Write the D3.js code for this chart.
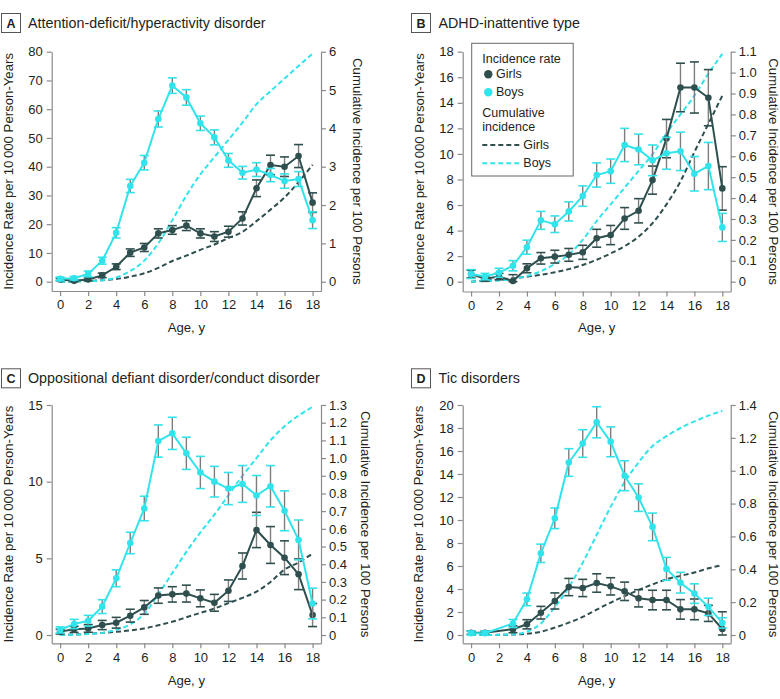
<!DOCTYPE html>
<html><head><meta charset="utf-8">
<script src="https://cdn.jsdelivr.net/npm/d3@7"></script>
<style>
body{margin:0;background:#fff}
text{font-family:"Liberation Sans",Arial,sans-serif;fill:#231f20}
</style>
</head><body>
<script>
// ---------- DATA ----------
const ages = d3.range(0, 19);
const xTicks = [0, 2, 4, 6, 8, 10, 12, 14, 16, 18];

// Panel A: ADHD
const boysRateA  = [1.0, 1.2, 2.7, 7.3, 17.0, 33.3, 41.4, 56.6, 68.2, 64.1, 55.1, 50.2, 42.2, 37.9, 39.0, 37.1, 35.0, 35.7, 21.4];
const boysErrA   = [0.6, 0.6, 1.0, 1.2, 1.8, 2.3, 2.5, 2.8, 2.7, 2.7, 2.5, 2.6, 2.4, 2.2, 2.4, 2.3, 2.5, 2.6, 2.9];
const girlsRateA = [0.8, 0.3, 0.8, 2.2, 5.2, 10.1, 11.9, 16.8, 18.0, 19.5, 16.8, 15.7, 17.4, 22.0, 32.5, 40.6, 40.0, 43.7, 27.5];
const girlsErrA  = [0.4, 0.3, 0.5, 0.8, 1.0, 1.3, 1.4, 1.6, 1.5, 1.7, 1.6, 1.7, 1.9, 2.3, 2.9, 3.4, 3.4, 4.0, 3.4];
const boysCumA   = [0, 0.005, 0.015, 0.04, 0.11, 0.28, 0.55, 1.0, 1.6, 2.25, 2.8, 3.25, 3.7, 4.15, 4.63, 4.97, 5.3, 5.63, 5.95];
const girlsCumA  = [0, 0.01, 0.02, 0.04, 0.07, 0.13, 0.22, 0.36, 0.54, 0.68, 0.83, 0.97, 1.14, 1.3, 1.58, 1.88, 2.2, 2.6, 3.05];
const leftTicksA  = [0, 10, 20, 30, 40, 50, 60, 70, 80];
const rightTicksA = [0, 1, 2, 3, 4, 5, 6];

// Panel B: ADHD-inattentive type
const boysRateB  = [0.6, 0.4, 0.7, 1.25, 2.7, 4.8, 4.5, 5.5, 6.7, 8.35, 8.65, 10.7, 10.35, 9.5, 10.05, 10.2, 8.45, 9.05, 4.25];
const boysErrB   = [0.35, 0.25, 0.35, 0.4, 0.55, 0.7, 0.65, 0.75, 0.8, 0.95, 0.95, 1.3, 1.2, 1.2, 1.25, 1.5, 1.35, 1.85, 1.1];
const girlsRateB = [0.6, 0.23, 0.4, 0.05, 1.05, 1.83, 1.96, 2.1, 2.3, 3.4, 3.65, 4.95, 5.55, 7.95, 11.2, 15.2, 15.2, 14.4, 7.3];
const girlsErrB  = [0.3, 0.2, 0.25, 0.5, 0.35, 0.45, 0.5, 0.5, 0.55, 0.7, 0.75, 0.85, 0.95, 1.1, 1.5, 1.9, 2.0, 2.2, 1.7];
const boysCumB   = [0, 0.003, 0.006, 0.013, 0.027, 0.05, 0.085, 0.13, 0.2, 0.29, 0.37, 0.45, 0.53, 0.61, 0.71, 0.8, 0.89, 0.995, 1.09];
const girlsCumB  = [0, 0.005, 0.01, 0.016, 0.024, 0.033, 0.045, 0.06, 0.08, 0.105, 0.135, 0.17, 0.215, 0.28, 0.37, 0.48, 0.62, 0.755, 0.89];
const leftTicksB  = [0, 2, 4, 6, 8, 10, 12, 14, 16, 18];
const rightTicksB = [0, 0.1, 0.2, 0.3, 0.4, 0.5, 0.6, 0.7, 0.8, 0.9, 1.0, 1.1];

// Panel C: ODD/CD
const boysRateC  = [0.33, 0.72, 0.93, 1.85, 3.7, 6.0, 8.25, 12.65, 13.15, 11.85, 10.6, 10.0, 9.55, 9.85, 9.1, 9.7, 8.1, 6.2, 2.05];
const boysErrC   = [0.2, 0.3, 0.35, 0.45, 0.55, 0.7, 0.8, 1.05, 1.05, 1.05, 1.05, 1.0, 1.05, 1.2, 1.3, 1.35, 1.3, 1.3, 1.0];
const girlsRateC = [0.22, 0.37, 0.43, 0.65, 0.8, 1.26, 1.8, 2.57, 2.65, 2.7, 2.39, 2.1, 2.89, 4.5, 6.85, 5.87, 5.04, 3.96, 1.3];
const girlsErrC  = [0.15, 0.2, 0.25, 0.3, 0.35, 0.42, 0.45, 0.5, 0.5, 0.55, 0.55, 0.55, 0.7, 0.85, 1.15, 1.2, 1.1, 1.0, 0.75];
const boysCumC   = [0, 0.002, 0.005, 0.012, 0.03, 0.06, 0.12, 0.23, 0.35, 0.47, 0.58, 0.68, 0.79, 0.9, 1.0, 1.1, 1.18, 1.24, 1.29];
const girlsCumC  = [0, 0.003, 0.007, 0.012, 0.018, 0.026, 0.037, 0.055, 0.075, 0.1, 0.125, 0.15, 0.18, 0.21, 0.245, 0.3, 0.37, 0.41, 0.46];
const leftTicksC  = [0, 5, 10, 15];
const rightTicksC = [0, 0.1, 0.2, 0.3, 0.4, 0.5, 0.6, 0.7, 0.8, 0.9, 1.0, 1.1, 1.2, 1.3];

// Panel D: Tic disorders (no estimate at age 2)
const boysRateD  = [0.15, 0.15, null, 1.0, 3.1, 7.1, 10.15, 15.0, 16.65, 18.5, 16.8, 13.85, 11.95, 9.4, 5.75, 4.55, 3.6, 2.45, 1.05];
const boysErrD   = [0.2, 0.2, null, 0.35, 0.55, 0.8, 0.9, 1.2, 1.2, 1.35, 1.3, 1.3, 1.2, 1.2, 1.0, 0.9, 0.85, 0.75, 0.45];
const girlsRateD = [0.2, 0.2, null, 0.5, 0.93, 1.94, 2.96, 4.17, 4.09, 4.52, 4.23, 3.8, 3.19, 3.04, 3.04, 2.23, 2.23, 1.88, 0.52];
const girlsErrD  = [0.15, 0.15, null, 0.3, 0.4, 0.55, 0.7, 0.75, 0.75, 0.8, 0.75, 0.8, 0.75, 0.85, 0.85, 0.85, 0.9, 0.7, 1.5];
const boysCumD   = [0, 0, 0.001, 0.004, 0.02, 0.07, 0.17, 0.29, 0.44, 0.61, 0.78, 0.93, 1.05, 1.15, 1.21, 1.26, 1.3, 1.335, 1.365];
const girlsCumD  = [0, 0, 0.001, 0.003, 0.007, 0.02, 0.045, 0.075, 0.11, 0.155, 0.197, 0.237, 0.274, 0.308, 0.339, 0.36, 0.38, 0.406, 0.426];
const leftTicksD  = [0, 2, 4, 6, 8, 10, 12, 14, 16, 18, 20];
const rightTicksD = [0, 0.2, 0.4, 0.6, 0.8, 1.0, 1.2, 1.4];

const titles = ["Attention-deficit/hyperactivity disorder", "ADHD-inattentive type",
                "Oppositional defiant disorder/conduct disorder", "Tic disorders"];
const letters = ["A", "B", "C", "D"];
const yLabel = "Incidence Rate per 10\u2009000 Person-Years";
const y2Label = "Cumulative Incidence per 100 Persons";
const xLabel = "Age, y";
const legendTitle1 = "Incidence rate";
const legendTitle2 = ["Cumulative", "incidence"];
const seriesNames = ["Girls", "Boys"];

// ---------- STYLE / LAYOUT ----------
const C_GIRL = "#2f4f4f", C_BOY = "#31e4eb", C_ERR = "#7d7d7d", C_AXIS = "#8a8a8a", C_TEXT = "#231f20";

const svg = d3.select("body").append("svg").attr("width", 780).attr("height", 699);

const layouts = [
  {L: 51.7, R: 321, top: 51.7, zero: 281.7, bottom: 291, boxX: 1, boxY: 13, titleX: 28, titleY: 28.3, ylx: 12.5, y2lx: 353.4, xly: 331.7},
  {L: 462.7, R: 730.7, top: 51.7, zero: 281.7, bottom: 291.5, boxX: 411, boxY: 13, titleX: 438.5, titleY: 28.3, ylx: 423.5, y2lx: 768.8, xly: 331.7},
  {L: 51.7, R: 321, top: 405, zero: 635, bottom: 643.3, boxX: 1, boxY: 368.3, titleX: 28, titleY: 383.3, ylx: 12.5, y2lx: 360.7, xly: 685},
  {L: 462.7, R: 730.7, top: 405, zero: 635, bottom: 643.3, boxX: 411, boxY: 368.3, titleX: 438.5, titleY: 383.3, ylx: 422.8, y2lx: 769, xly: 685}
];

const panels = [
  {boys: boysRateA, boysErr: boysErrA, girls: girlsRateA, girlsErr: girlsErrA, boysCum: boysCumA, girlsCum: girlsCumA, lt: leftTicksA, rt: rightTicksA, rInt: true},
  {boys: boysRateB, boysErr: boysErrB, girls: girlsRateB, girlsErr: girlsErrB, boysCum: boysCumB, girlsCum: girlsCumB, lt: leftTicksB, rt: rightTicksB, legend: true},
  {boys: boysRateC, boysErr: boysErrC, girls: girlsRateC, girlsErr: girlsErrC, boysCum: boysCumC, girlsCum: girlsCumC, lt: leftTicksC, rt: rightTicksC},
  {boys: boysRateD, boysErr: boysErrD, girls: girlsRateD, girlsErr: girlsErrD, boysCum: boysCumD, girlsCum: girlsCumD, lt: leftTicksD, rt: rightTicksD}
];

function styleAxis(sel) {
  sel.attr("font-family", null).attr("font-size", null);
  sel.select(".domain").attr("stroke", C_AXIS).attr("stroke-width", 1.2);
  sel.selectAll(".tick line").attr("stroke", C_AXIS).attr("stroke-width", 1.2);
  sel.selectAll(".tick text").attr("fill", C_TEXT).style("font-size", "13px");
}

panels.forEach((p, k) => {
  const lay = layouts[k];
  const g = svg.append("g");
  const yMax = d3.max(p.lt), y2Max = d3.max(p.rt);
  const padFrac = (lay.bottom - lay.zero) / (lay.zero - lay.top);
  const x = d3.scaleLinear().domain([-0.6, 18.6]).range([lay.L, lay.R]);
  const y = d3.scaleLinear().domain([-yMax * padFrac, yMax]).range([lay.bottom, lay.top]);
  const y2 = d3.scaleLinear().domain([-y2Max * padFrac, y2Max]).range([lay.bottom, lay.top]);

  // title
  g.append("rect").attr("x", lay.boxX + 0.5).attr("y", lay.boxY + 0.5).attr("width", 19).attr("height", 19)
    .attr("fill", "#fff").attr("stroke", "#555").attr("stroke-width", 1);
  g.append("text").attr("x", lay.boxX + 10).attr("y", lay.boxY + 15).attr("text-anchor", "middle")
    .style("font-size", "12.5px").style("font-weight", "bold").text(letters[k]);
  g.append("text").attr("x", lay.titleX).attr("y", lay.titleY).style("font-size", "14.3px").text(titles[k]);

  // axes
  g.append("g").attr("transform", `translate(0,${lay.bottom})`)
    .call(d3.axisBottom(x).tickValues(xTicks).tickSize(5).tickPadding(4).tickSizeOuter(0)).call(styleAxis);
  g.append("g").attr("transform", `translate(${lay.L},0)`)
    .call(d3.axisLeft(y).tickValues(p.lt).tickSize(5).tickPadding(4).tickSizeOuter(0)).call(styleAxis);
  g.append("g").attr("transform", `translate(${lay.R},0)`)
    .call(d3.axisRight(y2).tickValues(p.rt).tickSize(5).tickPadding(3).tickSizeOuter(0)
      .tickFormat(d => d === 0 ? "0" : (p.rInt ? d3.format("d")(d) : d3.format(".1f")(d)))).call(styleAxis);

  // axis labels
  const cy = (lay.top + lay.bottom) / 2;
  g.append("text").attr("transform", `translate(${lay.ylx},${cy}) rotate(-90)`).attr("text-anchor", "middle")
    .style("font-size", "13.2px").text(yLabel);
  g.append("text").attr("transform", `translate(${lay.y2lx},${cy}) rotate(90)`).attr("text-anchor", "middle")
    .style("font-size", "13.2px").text(y2Label);
  g.append("text").attr("x", (lay.L + lay.R) / 2).attr("y", lay.xly).attr("text-anchor", "middle")
    .style("font-size", "13.2px").text(xLabel);

  // cumulative (dashed)
  const cumLine = d3.line().x(d => x(d[0])).y(d => y2(d[1])).curve(d3.curveMonotoneX);
  [[p.girlsCum, C_GIRL], [p.boysCum, C_BOY]].forEach(([arr, col]) => {
    g.append("path").attr("d", cumLine(ages.map((a, i) => [a, arr[i]])))
      .attr("fill", "none").attr("stroke", col).attr("stroke-width", 2).attr("stroke-dasharray", "5,3");
  });

  // incidence rates with error bars
  const rateLine = d3.line().x(d => x(d.a)).y(d => y(d.v));
  [[p.girls, p.girlsErr, C_GIRL], [p.boys, p.boysErr, C_BOY]].forEach(([vals, errs, col]) => {
    const pts = ages.map((a, i) => ({a, v: vals[i], e: errs[i]})).filter(d => d.v !== null);
    const eb = g.append("g");
    pts.forEach(d => {
      const yt = y(d.v + d.e), yb = y(Math.max(0, d.v - d.e)), xc = x(d.a);
      eb.append("line").attr("x1", xc).attr("x2", xc).attr("y1", yt).attr("y2", yb)
        .attr("stroke", C_ERR).attr("stroke-width", 1.4);
      [yt, yb].forEach(yy => eb.append("line").attr("x1", xc - 4.5).attr("x2", xc + 4.5).attr("y1", yy).attr("y2", yy)
        .attr("stroke", col).attr("stroke-width", 1.6));
    });
    g.append("path").attr("d", rateLine(pts)).attr("fill", "none").attr("stroke", col).attr("stroke-width", 2);
    g.selectAll(null).data(pts).enter().append("circle")
      .attr("cx", d => x(d.a)).attr("cy", d => y(d.v)).attr("r", 3.3).attr("fill", col);
  });

  // legend
  if (p.legend) {
    const lg = g.append("g");
    lg.append("rect").attr("x", 471.7).attr("y", 43.3).attr("width", 101.5).attr("height", 132.7)
      .attr("fill", "#fff").attr("stroke", "#666").attr("stroke-width", 1);
    const fs = "12.5px";
    lg.append("text").attr("x", 482.3).attr("y", 63).style("font-size", fs).text(legendTitle1);
    [[C_GIRL, 74.3, 77.8], [C_BOY, 92.3, 95.8]].forEach(([col, cyy, ty], i) => {
      lg.append("circle").attr("cx", 488.3).attr("cy", cyy).attr("r", 4.2).attr("fill", col);
      lg.append("text").attr("x", 496).attr("y", ty).style("font-size", fs).text(seriesNames[i]);
    });
    lg.append("text").attr("x", 482.3).attr("y", 116.7).style("font-size", fs).text(legendTitle2[0]);
    lg.append("text").attr("x", 482.3).attr("y", 130.5).style("font-size", fs).text(legendTitle2[1]);
    [[C_GIRL, 145, 148.5], [C_BOY, 163.3, 166.8]].forEach(([col, ly, ty], i) => {
      lg.append("line").attr("x1", 482.3).attr("x2", 520).attr("y1", ly).attr("y2", ly)
        .attr("stroke", col).attr("stroke-width", 2).attr("stroke-dasharray", "5,3");
      lg.append("text").attr("x", 523.3).attr("y", ty).style("font-size", fs).text(seriesNames[i]);
    });
  }
});
</script>
</body></html>
